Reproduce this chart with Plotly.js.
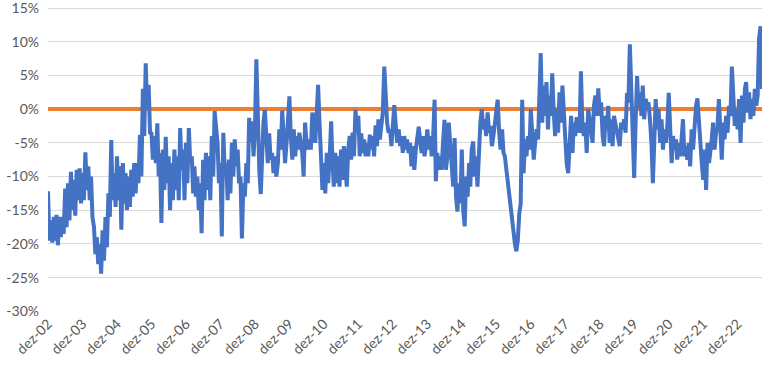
<!DOCTYPE html>
<html>
<head>
<meta charset="utf-8">
<script src="https://cdn.plot.ly/plotly-3.0.1.min.js"></script>
<style>
  html, body { margin: 0; padding: 0; background: #ffffff; }
  #chart { width: 782px; height: 370px; }
</style>
</head>
<body>
<div id="chart"></div>
<script>
// Semi-monthly readings (1st and 16th of each month), in percent.
// Each array runs from December of the previous year to November.
const startYear = 2002, startMonth = 12;
const y2003 = [-12.2,-19.5,-16.5,-19.8,-16,-19.5,-15.7,-20.2,-16,-19,-16,-18.5,-11.8,-17.5,-11,-16.5,-9.3,-15,-10.5,-15.8,-9,-13.5,-8.8,-14];
const y2004 = [-9.5,-13.5,-6.4,-12,-8.5,-13.5,-10,-16,-17.5,-21.5,-19,-23,-20,-24.4,-18,-22.5,-16,-20.5,-12.5,-16,-4.6,-13.5,-9.5,-14.5];
const y2005 = [-7,-13.5,-8.5,-17.9,-8,-14,-9.5,-15,-10,-14.5,-9,-13,-8,-12.5,-8,-11,-3.8,-10,3,-4,6.8,0,3.6,-3.5];
const y2006 = [-3.6,-7.5,-4,-8,-2.1,-10,-6.5,-16.9,-6,-12,-4.1,-11,-7,-15,-8,-13.5,-6,-12,-7,-13.5,-2.8,-9,-6,-13.5];
const y2007 = [-5,-11,-2.8,-8,-7,-12.5,-8.5,-13,-10,-15,-11,-18.4,-7.5,-13.5,-6.5,-12,-7,-13.5,-4,-10,-0.3,-3,-5,-11];
const y2008 = [-8,-18.9,-3.5,-9,-8,-13.5,-7.5,-12.5,-5,-10,-4.5,-8.5,-6,-11,-10,-19.2,-11,-13,-8,-11,-1.3,-5,-1.8,-7];
const y2009 = [-3,7.4,-4,-9,-12.6,-5,-2,-0.1,-5,-8,-3.6,-7.5,-6.5,-9.5,-7,-10,-8,-3,-6,-0.2,-4,-8,-5,-2];
const y2010 = [1.9,-4,-7.5,-3,-7,-4,-6,-3.5,-5,-6.5,-10,-2,-5,-6,-4.5,-6,-0.5,-2,-5,0,3.6,-2,-8,-12];
const y2011 = [-8,-12.5,-6.5,-11,-7,-1.8,-7,-11.5,-6.5,-11,-7,-11.5,-6,-10.5,-5.5,-8,-11.5,-6,-4,-7.5,-3.5,-7,-0.1,-3.5];
const y2012 = [-1,-7,-3.6,-6.5,-4.5,-7,-5,-7,-3.8,-6,-4,-7,-2.4,-5.5,-1.5,-4.5,-2.5,-0.5,6.3,1.5,-2,-3.5,-3,-5.5];
const y2013 = [-3,0.6,-2.5,-5,-3,-5.5,-4,-6.5,-4,-6,-4.5,-6.5,-5,-8.5,-5.5,-9,-6,-4,-2.6,-4.5,-6.5,-4,-7,-5.5];
const y2014 = [-3,-6,-4,-7,-4,1.4,-10.7,-6.5,-9,-7,-9,-5,-1.6,-9,-7,-2,-6,-9.5,-11.5,-4.3,-13,-15.2,-11,-14];
const y2015 = [-6,-15,-17.4,-10,-13,-8,-11.5,-6,-4.8,-10,-7,-11.5,-5,-2,0,-3,-1.5,-4,-0.5,-3.5,-2.5,-5.5,-4,-2.5];
const y2016 = [-1,1.4,-3.5,-6,-3,-6.5,-7,-9,-11,-12,-14,-17,-19,-20,-21.1,-19.5,-15.5,-14,1.4,-9.5,-4.5,-7,-4,-6];
const y2017 = [0,-4,-7.5,-5,-3,-4.5,1.4,8.3,-2,3.5,-1,4,-3,2,-1,5.3,-0.5,-4,0,-3.5,2.5,-2,3.5,-1];
const y2018 = [-3,-8,-9.5,-5,-1,-6.5,-2,-4,-1.2,-2.5,-3.5,5.6,-2.5,-4,-2,-6.5,0,-1.5,-3,-5,0.5,2,-1,3.1];
const y2019 = [-1,1,-4,-5.5,-1,-3,0.5,-5,-1.5,-5.5,-1,-2,-3,-4.5,-5.5,-2,-3,-1.5,-3.5,2.4,1,9.6,3,0];
const y2020 = [-10.2,-2,4.9,0,2.5,-1,3.5,-1.5,1.5,0.5,1,-1.5,-5,-11,-3,1.5,-3,0,-5,-1.5,-6,-3,-5,-2.5];
const y2021 = [2.4,-3,-8,-4,-6,-4.5,-7.5,-5,-7,-4.5,-1.5,-7,-5.5,-7.5,-5,-8.5,-3,-6,-1.5,0.5,1.6,-2,-6.5,-8];
const y2022 = [-10.5,-6,-12,-5,-8,-6.5,-4.5,-2,-6,-3.5,-3,1.5,-5,-7.5,-2,-4.5,-1,-3.5,0.5,-1,6.3,1,-2.5,0];
const y2023 = [-3,1.5,-5,2,-2,3,4,-0.5,2.5,-1.5,1.5,-1,3,0.5,2,10.5,12.3,3];

const referenceLevel = 0;
const yTicks = [-30,-25,-20,-15,-10,-5,0,5,10,15];
const tickDates = ["2002-12-01","2003-12-01","2004-12-01","2005-12-01","2006-12-01","2007-12-01","2008-12-01","2009-12-01","2010-12-01","2011-12-01","2012-12-01","2013-12-01","2014-12-01","2015-12-01","2016-12-01","2017-12-01","2018-12-01","2019-12-01","2020-12-01","2021-12-01","2022-12-01"];
const tickLabels = ["dez-02","dez-03","dez-04","dez-05","dez-06","dez-07","dez-08","dez-09","dez-10","dez-11","dez-12","dez-13","dez-14","dez-15","dez-16","dez-17","dez-18","dez-19","dez-20","dez-21","dez-22"];

const values = [].concat(y2003,y2004,y2005,y2006,y2007,y2008,y2009,y2010,y2011,y2012,y2013,y2014,y2015,y2016,y2017,y2018,y2019,y2020,y2021,y2022,y2023);
const dates = values.map(function(_, i){
  const m0 = (startMonth - 1) + Math.floor(i / 2);
  const yr = startYear + Math.floor(m0 / 12);
  const mo = (m0 % 12) + 1;
  const day = (i % 2 === 0) ? "01" : "16";
  return yr + "-" + String(mo).padStart(2, "0") + "-" + day;
});
const refLine = dates.map(function(){ return referenceLevel; });

const traces = [
  { x: dates, y: refLine, type: "scatter", mode: "lines",
    line: { color: "#ED7D31", width: 4 }, hoverinfo: "skip", showlegend: false },
  { x: dates, y: values, type: "scatter", mode: "lines",
    line: { color: "#4472C4", width: 4 }, showlegend: false, cliponaxis: false }
];

const layout = {
  width: 782, height: 370,
  margin: { l: 48, r: 20, t: 6, b: 58, pad: 0 },
  paper_bgcolor: "#ffffff", plot_bgcolor: "#ffffff",
  font: { family: "Lato, 'Open Sans', sans-serif", size: 14, color: "#595959" },
  showlegend: false,
  xaxis: {
    type: "date",
    range: [dates[0], dates[dates.length - 1]],
    tickvals: tickDates, ticktext: tickLabels,
    tickangle: -45, showgrid: false, zeroline: false, showline: false,
    ticks: "", tickfont: { size: 14, color: "#595959" }, ticklabeloverflow: "allow"
  },
  yaxis: {
    range: [-30.1, 15.3], tickvals: yTicks,
    ticktext: yTicks.map(function(v){ return v + "%"; }),
    showgrid: true, gridcolor: "#D9D9D9", gridwidth: 1,
    zeroline: false, showline: false, ticks: "",
    tickfont: { size: 14, color: "#595959" }, ticklabelstandoff: 8,
    ticklabeloverflow: "allow"
  }
};

Plotly.newPlot("chart", traces, layout, { displayModeBar: false, staticPlot: true });
</script>
</body>
</html>
